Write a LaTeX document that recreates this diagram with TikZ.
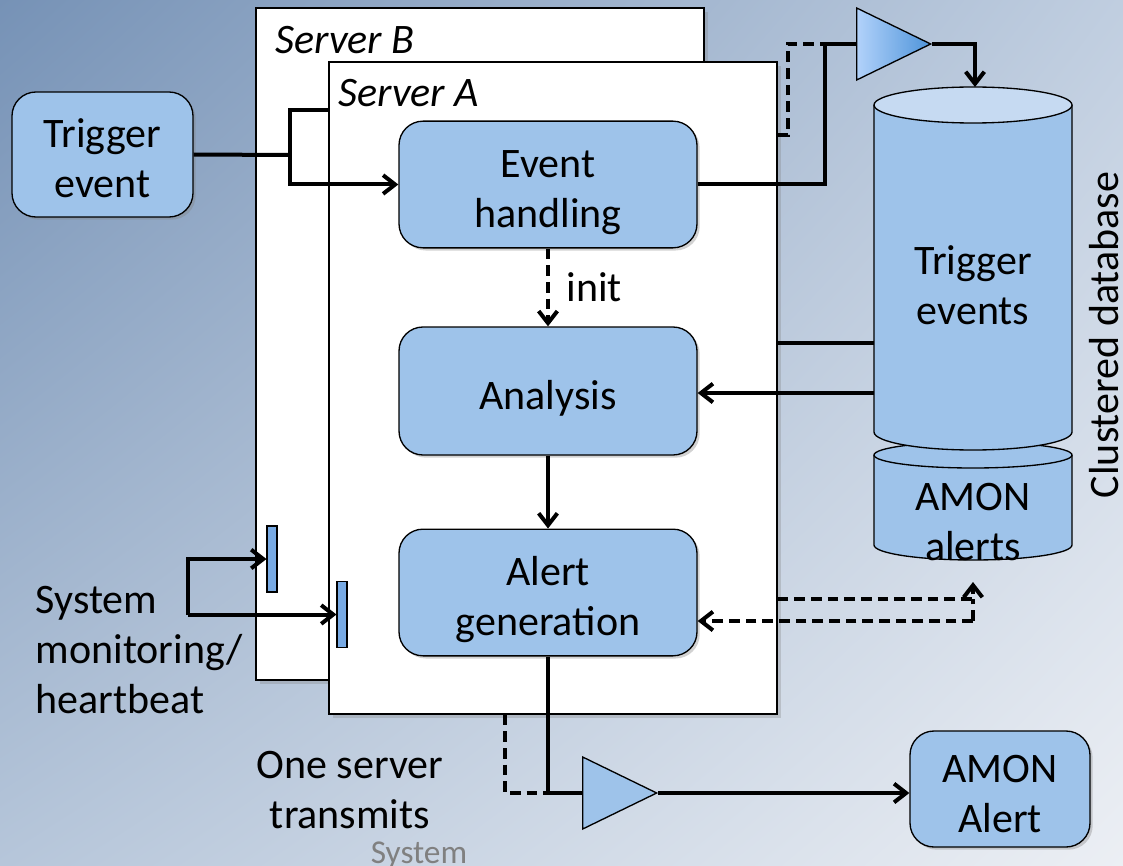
\documentclass[tikz,border=0pt]{standalone}
\usepackage{fontspec}
\setmainfont{Carlito}
\usepackage{tikz}
\usetikzlibrary{arrows.meta,shapes.geometric,shadows,shadings}

\definecolor{bgTL}{RGB}{118,146,182}
\definecolor{bgTR}{RGB}{192,206,224}
\definecolor{bgBL}{RGB}{182,198,218}
\definecolor{bgBR}{RGB}{236,239,244}
\definecolor{boxblue}{RGB}{158,195,234}
\definecolor{toplight}{RGB}{198,218,242}
\definecolor{barblue}{RGB}{120,170,228}
\definecolor{triLight}{RGB}{178,210,250}
\definecolor{triDark}{RGB}{78,148,218}

\tikzset{
  bigtext/.style={font=\fontsize{31.5}{37.5}\selectfont},
  procbox/.style={draw, line width=1pt, fill=boxblue, rounded corners=18pt,
    minimum width=223.5pt, minimum height=95pt, align=center, bigtext,
    text height=30pt, text depth=3pt,
    drop shadow={opacity=0.35,shadow xshift=2pt,shadow yshift=-2pt}},
  twolines/.style={text height=67.5pt},
  serverbox/.style={draw, line width=1pt, fill=white, minimum width=336pt,
    drop shadow={opacity=0.3,shadow xshift=3pt,shadow yshift=-3pt}},
  ampbox/.style={isosceles triangle, isosceles triangle stretches, draw, line width=1pt,
    minimum width=54pt, minimum height=55.5pt, inner sep=0pt, anchor=west},
  heartbar/.style={draw, line width=0.8pt, fill=barblue, minimum width=7.5pt,
    minimum height=49.5pt, inner sep=0pt},
  link/.style={line width=3pt},
  arr/.style={-{Straight Barb[length=9pt,width=14pt,line width=3pt]}},
  dashline/.style={dash pattern=on 8pt off 4.5pt}
}

\begin{document}
\begin{tikzpicture}[x=0.75pt,y=0.75pt,yscale=-1,xscale=1]
\useasboundingbox (0,0) rectangle (1123,866);

%Background
\shade[upper left=bgTL, upper right=bgTR, lower left=bgBL, lower right=bgBR] (0,0) rectangle (1123,866);

%Shape: Server B
\node[serverbox, minimum height=504pt] (srvB) at (480,344) {};
\draw (274,40) node [anchor=west][inner sep=0.75pt] [bigtext] (labB) {\itshape Server B};

%Trigger event and its split
\node[procbox, twolines, minimum width=135.75pt, minimum height=93.75pt] (trig) at (102.5,154.5) {Trigger\\event};
\coordinate (split) at (290,155);
\draw[link] (trig.east) -- (split);
\draw[link] (split) |- (329,110);

%Monitoring bar on Server B
\node[heartbar] (bar1) at (272,559) {};

%Shape: Server A
\node[serverbox, minimum height=489pt] (srvA) at (553,388) {};
\draw (337,93) node [anchor=west][inner sep=0.75pt] [bigtext] (labA) {\itshape Server A};

%Process boxes
\node[procbox, twolines] (evt) at (548,184.5) {Event\\handling};
\node[procbox, minimum height=96pt] (ana) at (548,391) {Analysis};
\node[procbox, twolines] (alert) at (548,592.5) {Alert\\generation};

\node[heartbar] (bar2) at (342,614.5) {};

%Clustered database: AMON alerts
\draw[line width=1pt, fill=boxblue] (874,455) -- (874,545) arc[start angle=180, end angle=0, x radius=99, y radius=15] -- (1072,455);
\draw[line width=1pt, fill=boxblue] (973,455) ellipse [x radius=99, y radius=13];
%Clustered database: Trigger events
\draw[line width=1pt, fill=boxblue] (874,105) -- (874,432) arc[start angle=180, end angle=0, x radius=99, y radius=18] -- (1072,105);
\draw[line width=1pt, fill=toplight] (973,105) ellipse [x radius=99, y radius=18];
\node[minimum width=148.5pt, minimum height=245pt, inner sep=0pt] (trigdb) at (973,268.5) {};
\node[align=center, bigtext] (trigtxt) at (973,285) {Trigger\\events};
\node[align=center, bigtext] (amontxt) at (973,522) {AMON\\alerts};
\coordinate (dbtop) at (975,87);
\coordinate (dbbot) at (973,582);
\node[bigtext, rotate=90, inner sep=0pt] (dbname) at (1104,335) {Clustered database};

%Amplifiers
\node[ampbox, left color=triLight, right color=triDark] (amp1) at (856,44) {};
\node[ampbox, fill=boxblue] (amp2) at (582,793) {};

\node[procbox, twolines, minimum width=135pt, minimum height=87pt] (amon) at (1000,789) {AMON\\Alert};

%Connectors
\draw[link,arr] (split) |- (evt.west);
\coordinate (join1) at (825,44);
\draw[link] (evt.east) -| (join1) -- (amp1.west);
\draw[link,dashline] (srvA.east |- 0,135) -| (788,44) -- (join1);
\draw[link,arr] (amp1.east) -| (dbtop);

\draw[link,dashline,arr] (evt.south) -- (ana.north) node[midway, right, bigtext, xshift=9pt] (initlab) {init};
\draw[link] (srvA.east |- 0,343) -- (trigdb.west |- 0,343);
\draw[link,arr] (trigdb.west |- 0,393) -- (ana.east |- 0,393);
\draw[link,arr] (ana.south) -- (alert.north);

\coordinate (dbcorner) at (973,621);
\draw[link,dashline,arr] (srvA.east |- 0,599) -| (dbbot);
\draw[link,dashline] (dbcorner) -- (973,599);
\draw[link,dashline,arr] (dbcorner) -- (alert.east |- dbcorner);

\draw[link,dashline] (505,0 |- srvA.south) |- (alert.south |- amp2.west);
\draw[link] (alert.south) |- (amp2.west);
\draw[link,arr] (amp2.east) -- (amon.west |- amp2.east);

\coordinate (mon) at (188,614.5);
\draw[link,arr] (mon) |- (bar1.west);
\draw[link,arr] (mon) -- (bar2.west);

% Text Node
\node[bigtext, align=left, anchor=west] (montxt) at (31,650.5) {System\\monitoring/\\heartbeat};
% Text Node
\node[bigtext, align=center] (onesrv) at (350,790) {One server\\transmits};
% Text Node
\node[font=\fontsize{25}{30}\selectfont, text=gray] (systxt) at (419,855) {System};

\end{tikzpicture}
\end{document}
